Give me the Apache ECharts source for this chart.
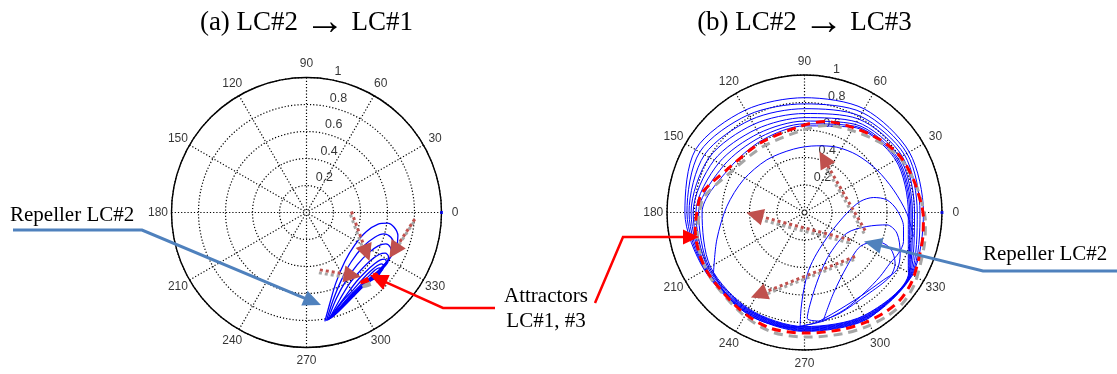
<!DOCTYPE html>
<html>
<head>
<meta charset="utf-8">
<script src="https://cdn.jsdelivr.net/npm/echarts@6/dist/echarts.min.js"></script>
<style>
html, body { margin: 0; padding: 0; background: #fff; }
#chart { width: 1117px; height: 374px; }
</style>
</head>
<body>
<div id="chart"></div>
<script>
// ---------- axes ----------
const angleTicks = [0, 30, 60, 90, 120, 150, 180, 210, 240, 270, 300, 330];
const angleTickLabels = ['0', '30', '60', '90', '120', '150', '180', '210', '240', '270', '300', '330'];
const radiusTicks = [0.2, 0.4, 0.6, 0.8, 1];
const radiusTickLabels = ['0.2', '0.4', '0.6', '0.8', '1'];
const panelTitles = ['(a) LC#2 {arr|\u2192} LC#1', '(b) LC#2 {arr|\u2192} LC#3'];

// ---------- panel (a): trajectory leaving LC#2 and settling on LC#1 (x = r cos θ, y = r sin θ) ----------
const leftLoop1 = [[0.136,-0.807],[0.173,-0.672],[0.217,-0.523],[0.284,-0.363],[0.358,-0.240],[0.444,-0.141],[0.531,-0.086],[0.598,-0.079],[0.649,-0.109],[0.677,-0.173],[0.667,-0.252],[0.630,-0.321],[0.568,-0.395],[0.494,-0.474],[0.407,-0.560],[0.309,-0.659],[0.210,-0.758],[0.148,-0.800]];
const leftLoop2 = [[0.148,-0.800],[0.198,-0.647],[0.259,-0.499],[0.333,-0.363],[0.420,-0.252],[0.506,-0.183],[0.573,-0.158],[0.625,-0.183],[0.649,-0.240],[0.637,-0.306],[0.588,-0.375],[0.519,-0.449],[0.432,-0.536],[0.333,-0.635],[0.235,-0.733],[0.160,-0.790]];
const leftLoop3 = [[0.160,-0.790],[0.222,-0.635],[0.296,-0.499],[0.375,-0.388],[0.457,-0.301],[0.531,-0.247],[0.588,-0.232],[0.622,-0.259],[0.630,-0.306],[0.598,-0.363],[0.538,-0.425],[0.457,-0.499],[0.358,-0.593],[0.259,-0.691],[0.170,-0.785]];
const leftLoop4 = [[0.170,-0.785],[0.252,-0.635],[0.321,-0.523],[0.400,-0.430],[0.474,-0.356],[0.538,-0.311],[0.583,-0.301],[0.607,-0.326],[0.602,-0.370],[0.556,-0.420],[0.489,-0.479],[0.407,-0.553],[0.309,-0.647],[0.222,-0.741],[0.160,-0.795]];
const leftLoop5 = [[0.160,-0.795],[0.296,-0.610],[0.370,-0.511],[0.440,-0.437],[0.504,-0.380],[0.548,-0.351],[0.580,-0.346],[0.593,-0.370],[0.573,-0.405],[0.523,-0.449],[0.449,-0.511],[0.358,-0.598],[0.272,-0.691],[0.175,-0.785]];
const leftLoop6 = [[0.175,-0.785],[0.270,-0.655],[0.346,-0.573],[0.415,-0.494],[0.477,-0.432],[0.523,-0.395],[0.556,-0.380],[0.573,-0.395],[0.563,-0.425],[0.523,-0.459],[0.459,-0.511],[0.375,-0.585],[0.280,-0.680],[0.190,-0.775]];
const leftLoop7 = [[0.190,-0.775],[0.300,-0.640],[0.395,-0.543],[0.454,-0.479],[0.504,-0.430],[0.538,-0.410],[0.558,-0.420],[0.548,-0.444],[0.509,-0.474],[0.449,-0.519],[0.380,-0.580],[0.300,-0.660],[0.215,-0.750]];
const leftLoop8 = [[0.215,-0.750],[0.330,-0.615],[0.449,-0.504],[0.499,-0.459],[0.533,-0.440],[0.543,-0.452],[0.519,-0.479],[0.469,-0.511],[0.400,-0.565],[0.320,-0.640],[0.250,-0.710]];
const leftLoop9 = [[0.250,-0.710],[0.380,-0.575],[0.480,-0.485],[0.510,-0.462],[0.528,-0.466],[0.515,-0.482],[0.480,-0.500],[0.430,-0.535]];
// LC#1 (attractor of panel a)
const leftLC1 = [[0.400,-0.520],[0.440,-0.495],[0.485,-0.470],[0.515,-0.455],[0.525,-0.470],[0.490,-0.490],[0.445,-0.510],[0.400,-0.520]];
// flow directions drawn in panel a: [from, to]
const leftFlow = [
  [[0.333, 0.007], [0.445, -0.300]],
  [[0.802, -0.049], [0.648, -0.284]],
  [[0.099, -0.425], [0.340, -0.465]]
];

// ---------- panel (b): trajectory leaving LC#2 and settling on LC#3 ----------
const rightLoopC = [[0.138,-0.781],[0.211,-0.587],[0.308,-0.393],[0.405,-0.247],[0.526,-0.211],[0.623,-0.259],[0.659,-0.368],[0.623,-0.465],[0.453,-0.599],[0.259,-0.732],[0.120,-0.790]];
const rightLoopD = [[0.120,-0.790],[0.020,-0.770],[0.060,-0.600],[0.120,-0.430],[0.187,-0.296],[0.308,-0.150],[0.453,-0.102],[0.599,-0.090],[0.672,-0.150],[0.696,-0.296],[0.672,-0.417],[0.575,-0.490],[0.405,-0.611],[0.211,-0.732],[0.090,-0.800]];
const rightLoopE = [[0.090,-0.800],[-0.032,-0.829],[-0.025,-0.700],[-0.005,-0.560],[0.030,-0.420],[0.090,-0.296],[0.187,-0.150],[0.308,-0.005],[0.405,0.080],[0.502,0.109],[0.599,0.092],[0.672,0.019],[0.720,-0.102],[0.720,-0.211],[0.684,-0.296],[0.623,-0.368],[0.550,-0.465],[0.440,-0.580],[0.300,-0.700],[0.138,-0.790]];
const rightBottomPass = [[0.138,-0.790],[-0.100,-0.835],[-0.360,-0.770],[-0.560,-0.610],[-0.662,-0.441]];
const rightWideArc = [[-0.662,-0.441],[-0.638,-0.199],[-0.565,0.044],[-0.444,0.238],[-0.274,0.383],[-0.080,0.461],[0.090,0.485],[0.235,0.475],[0.381,0.419],[0.526,0.310],[0.647,0.165],[0.744,-0.005],[0.793,-0.175]];
// successive turns around LC#3, clockwise from 330°
const rightTurn1 = [[0.788,-0.455],[0.450,-0.779],[0,-0.865],[-0.423,-0.732],[-0.727,-0.420],[-0.870,0],[-0.792,0.458],[-0.430,0.745],[0,0.835],[0.435,0.753],[0.762,0.440],[0.865,0]];
const rightTurn2 = [[0.784,-0.453],[0.448,-0.775],[0,-0.860],[-0.420,-0.727],[-0.723,-0.418],[-0.855,0],[-0.762,0.440],[-0.410,0.710],[0,0.790],[0.420,0.727],[0.745,0.430],[0.840,0]];
const rightTurn3 = [[0.779,-0.450],[0.445,-0.771],[0,-0.855],[-0.418,-0.723],[-0.719,-0.415],[-0.840,0],[-0.727,0.420],[-0.390,0.675],[0,0.755],[0.405,0.701],[0.727,0.420],[0.820,0]];
const rightTurn4 = [[0.775,-0.448],[0.443,-0.766],[0,-0.850],[-0.415,-0.719],[-0.714,-0.413],[-0.825,0],[-0.693,0.400],[-0.370,0.641],[0,0.720],[0.393,0.680],[0.710,0.410],[0.800,0]];
const rightTurn5 = [[0.771,-0.445],[0.440,-0.762],[0,-0.845],[-0.413,-0.714],[-0.710,-0.410],[-0.810,0],[-0.658,0.380],[-0.350,0.606],[0,0.690],[0.380,0.658],[0.693,0.400],[0.785,0]];
const rightTurn6 = [[0.766,-0.443],[0.438,-0.758],[0,-0.840],[-0.410,-0.710],[-0.701,-0.405],[-0.790,0],[-0.624,0.360],[-0.333,0.576],[0,0.665],[0.370,0.641],[0.680,0.393],[0.775,0]];
const rightTurn7 = [[0.762,-0.440],[0.435,-0.753],[0,-0.835],[-0.408,-0.706],[-0.693,-0.400],[-0.770,0],[-0.589,0.340],[-0.318,0.550],[0,0.645],[0.363,0.628],[0.671,0.388],[0.765,0]];
const rightTurn8 = [[0.758,-0.438],[0.433,-0.749],[0,-0.830],[-0.405,-0.701],[-0.684,-0.395],[-0.745,0],[-0.550,0.318],[-0.305,0.528],[0,0.630],[0.358,0.619],[0.662,0.383],[0.755,0],[0.755,-0.436]];
// LC#3 (attractor of panel b)
const rightLC3 = [[0.865,-0.029],[0.854,0.044],[0.793,0.238],[0.696,0.407],[0.551,0.529],[0.332,0.625],[0.151,0.662],[-0.031,0.627],[-0.322,0.505],[-0.564,0.311],[-0.746,0.141],[-0.783,-0.004],[-0.795,-0.126],[-0.765,-0.300],[-0.686,-0.465],[-0.468,-0.708],[-0.249,-0.841],[0.017,-0.877],[0.260,-0.853],[0.429,-0.804],[0.575,-0.732],[0.696,-0.635],[0.781,-0.502],[0.829,-0.344],[0.861,-0.175],[0.865,-0.029]];
const rightFlow = [
  [[0.441, -0.131], [0.140, 0.390]],
  [[0.332, -0.199], [-0.362, -0.018]],
  [[0.368, -0.320], [-0.332, -0.596]]
];
// reference marker at r = 1, θ = 0
const unitMarker = [[1, 0]];

// ---------- layout ----------
const panels = [
  { center: [306.5, 212.5], radius: 135 },
  { center: [804.5, 212.5], radius: 137.5 }
];
const GRID_DOT = { color: '#000', width: 1.2, type: [1.2, 2] };
const BLUE = '#0000ff';
const SANS = 'Liberation Sans';
const SERIF = 'Liberation Serif';

function trajectory(data, panel, width) {
  return {
    type: 'line', xAxisIndex: panel, yAxisIndex: panel, data: data,
    smooth: 0.3, showSymbol: false, symbol: 'none', silent: true, z: 3,
    lineStyle: { color: BLUE, width: width }
  };
}
function limitCycle(data, panel) {
  return {
    type: 'line', xAxisIndex: panel, yAxisIndex: panel, data: data,
    smooth: 0.3, showSymbol: false, symbol: 'none', silent: true, z: 5,
    lineStyle: { color: '#ff0000', width: 3, type: [9, 6],
      shadowColor: '#a6a6a6', shadowOffsetX: 2, shadowOffsetY: 4, shadowBlur: 0 }
  };
}
function flowArrows(list, panel) {
  return {
    type: 'lines', coordinateSystem: 'cartesian2d', xAxisIndex: panel, yAxisIndex: panel,
    silent: true, z: 6, symbol: ['none', 'triangle'], symbolSize: 17,
    lineStyle: { color: '#c0504d', width: 3, type: 'dotted', opacity: 1, curveness: 0,
      shadowColor: '#a6a6a6', shadowOffsetX: -1, shadowOffsetY: 3, shadowBlur: 0 },
    data: list.map(c => ({ coords: c }))
  };
}
function marker(panel) {
  return {
    type: 'scatter', xAxisIndex: panel, yAxisIndex: panel, data: unitMarker, silent: true, z: 4,
    symbol: 'rect', symbolSize: 3, itemStyle: { color: BLUE }
  };
}
function angleLabels(panel) {
  return {
    type: 'scatter', coordinateSystem: 'polar', polarIndex: panel, silent: true, clip: false, z: 1,
    symbolSize: 1, itemStyle: { color: 'rgba(0,0,0,0)' },
    data: angleTicks.map((a, k) => ({ name: angleTickLabels[k], value: [1.1, a] })),
    label: { show: true, position: 'inside', formatter: '{b}', color: '#000',
      fontFamily: SANS, fontSize: 12, align: 'center', verticalAlign: 'middle' }
  };
}
function radiusLabels(panel) {
  return {
    type: 'scatter', coordinateSystem: 'polar', polarIndex: panel, silent: true, clip: false, z: 1,
    symbolSize: 1, itemStyle: { color: 'rgba(0,0,0,0)' },
    data: radiusTicks.map((r, k) => ({ name: radiusTickLabels[k], value: [r, 80] })),
    label: { show: true, position: [5, -1], formatter: '{b}', color: '#000',
      fontFamily: SANS, fontSize: 12.5, align: 'left', verticalAlign: 'bottom' }
  };
}

// callout: polyline ending in a filled arrow head
function callout(pts, color, width, headLen, headHalf) {
  const n = pts.length, tip = pts[n - 1], prev = pts[n - 2];
  const dx = tip[0] - prev[0], dy = tip[1] - prev[1], L = Math.hypot(dx, dy);
  const ux = dx / L, uy = dy / L;
  const bx = tip[0] - ux * headLen, by = tip[1] - uy * headLen;
  return [
    { type: 'polyline', silent: true, z: 100,
      shape: { points: pts.slice(0, n - 1).concat([[bx + ux * 2, by + uy * 2]]) },
      style: { stroke: color, lineWidth: width, fill: null, lineJoin: 'miter' } },
    { type: 'polygon', silent: true, z: 100,
      shape: { points: [tip, [bx - uy * headHalf, by + ux * headHalf], [bx + uy * headHalf, by - ux * headHalf]] },
      style: { fill: color } }
  ];
}
function note(text, x, y, align) {
  return { type: 'text', x: x, y: y, silent: true, z: 101,
    style: { text: text, font: '21px "' + SERIF + '"', fill: '#000', align: align, verticalAlign: 'middle' } };
}
function heading(text, x) {
  return { type: 'text', x: x, y: 23, silent: true, z: 101,
    style: { text: text, font: '27px "' + SERIF + '"', fill: '#000', align: 'center', verticalAlign: 'middle',
      rich: { arr: { font: '40px "' + SERIF + '"', fill: '#000' } } } };
}

const series = [
  trajectory(leftLoop1, 0, 1.3), trajectory(leftLoop2, 0, 1.3), trajectory(leftLoop3, 0, 1.3),
  trajectory(leftLoop4, 0, 1.3), trajectory(leftLoop5, 0, 1.3), trajectory(leftLoop6, 0, 1.3),
  trajectory(leftLoop7, 0, 1.3), trajectory(leftLoop8, 0, 1.3), trajectory(leftLoop9, 0, 1.3),
  limitCycle(leftLC1, 0),
  flowArrows(leftFlow, 0),
  marker(0),
  trajectory(rightLoopC, 1, 1), trajectory(rightLoopD, 1, 1), trajectory(rightLoopE, 1, 1),
  trajectory(rightBottomPass, 1, 1), trajectory(rightWideArc, 1, 1),
  trajectory([].concat(rightTurn1, rightTurn2, rightTurn3, rightTurn4, rightTurn5, rightTurn6, rightTurn7, rightTurn8), 1, 1),
  limitCycle(rightLC3, 1),
  flowArrows(rightFlow, 1),
  marker(1),
  angleLabels(0), angleLabels(1), radiusLabels(0), radiusLabels(1)
];

const graphics = [heading(panelTitles[0], 306.5), heading(panelTitles[1], 804.5)].concat(
  callout([[13, 230], [142, 230], [321, 305]], '#4f81bd', 3, 18, 8),
  callout([[1117, 271], [983, 271], [864, 241.5]], '#4f81bd', 3, 18, 8),
  callout([[495, 308], [443, 308], [370, 275]], '#ff0000', 2.5, 18, 8),
  callout([[595, 303], [623, 237], [699, 237]], '#ff0000', 2.5, 16, 7.5),
  [
    note('Repeller LC#2', 10, 215, 'left'),
    note('Repeller LC#2', 983, 254, 'left'),
    note('Attractors', 546, 296, 'center'),
    note('LC#1, #3', 546, 321, 'center')
  ]
);

const option = {
  animation: false,
  backgroundColor: '#fff',
  textStyle: { fontFamily: SANS },
  polar: panels.map(p => ({ center: p.center, radius: p.radius })),
  angleAxis: panels.map((p, i) => ({
    polarIndex: i, type: 'value', min: 0, max: 360, interval: 30, startAngle: 0, clockwise: false,
    axisLine: { show: true, lineStyle: { color: '#000', width: 1.4 } },
    axisTick: { show: false }, axisLabel: { show: false },
    splitLine: { show: true, lineStyle: GRID_DOT }
  })),
  radiusAxis: panels.map((p, i) => ({
    polarIndex: i, type: 'value', min: 0, max: 1, interval: 0.2,
    axisLine: { show: false }, axisTick: { show: false }, axisLabel: { show: false },
    splitLine: { show: true, lineStyle: GRID_DOT }
  })),
  grid: panels.map(p => ({
    left: p.center[0] - p.radius, top: p.center[1] - p.radius,
    width: 2 * p.radius, height: 2 * p.radius, outerBoundsMode: 'none', containLabel: false
  })),
  xAxis: panels.map((p, i) => ({ gridIndex: i, type: 'value', min: -1, max: 1, show: false })),
  yAxis: panels.map((p, i) => ({ gridIndex: i, type: 'value', min: -1, max: 1, show: false })),
  series: series,
  graphic: { elements: graphics }
};

const chart = echarts.init(document.getElementById('chart'), null, { renderer: 'canvas' });
chart.setOption(option);
</script>
</body>
</html>
